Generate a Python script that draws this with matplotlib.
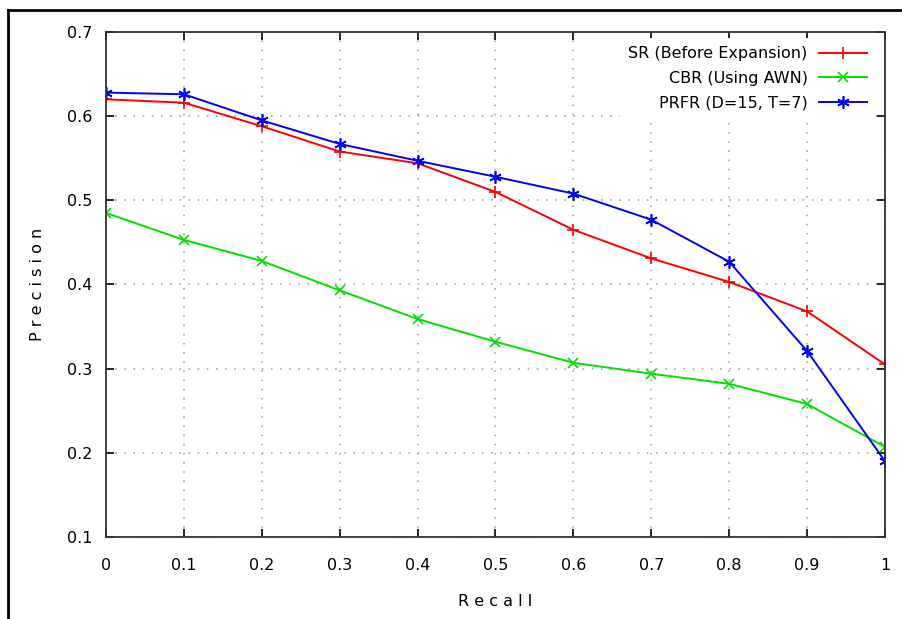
import numpy as np
import matplotlib.pyplot as plt
from matplotlib.lines import Line2D

recall = [0, 0.1, 0.2, 0.3, 0.4, 0.5, 0.6, 0.7, 0.8, 0.9, 1.0]
sr = [0.620, 0.616, 0.588, 0.558, 0.544, 0.510, 0.465, 0.431, 0.403, 0.368, 0.305]
cbr = [0.485, 0.453, 0.428, 0.393, 0.359, 0.332, 0.307, 0.294, 0.282, 0.258, 0.207]
prfr = [0.628, 0.626, 0.595, 0.567, 0.547, 0.528, 0.508, 0.477, 0.427, 0.321, 0.190]

labels = ["SR (Before Expansion)", "CBR (Using AWN)", "PRFR (D=15, T=7)"]
xticks = [0, 0.1, 0.2, 0.3, 0.4, 0.5, 0.6, 0.7, 0.8, 0.9, 1]
xtick_labels = ["0", "0.1", "0.2", "0.3", "0.4", "0.5", "0.6", "0.7", "0.8", "0.9", "1"]
yticks = [0.1, 0.2, 0.3, 0.4, 0.5, 0.6, 0.7]

fig = plt.figure(figsize=(9.03, 6.19), dpi=100)
ax = fig.add_axes([106 / 903, 1 - 537 / 619, (885 - 106) / 903, (537 - 32) / 619])

ax.plot(recall, sr, color="#ff0000", lw=1.4, marker="+", ms=9, mew=1.2, label=labels[0])
ax.plot(recall, cbr, color="#00e000", lw=1.4, marker="x", ms=7, mew=1.2, label=labels[1])
ax.plot(recall, prfr, color="#0000ff", lw=1.4, marker=(6, 2, 0), ms=9, mew=1.2, label=labels[2])

ax.set_xlim(0, 1)
ax.set_ylim(0.1, 0.7)
ax.set_xticks(xticks)
ax.set_xticklabels(xtick_labels)
ax.set_yticks(yticks)
ax.set_yticklabels(["%.1f" % v for v in yticks])
ax.grid(True, color="#999999", linestyle=(0, (1, 5)), lw=1.1)
ax.tick_params(direction="in", length=6, width=1.2, top=True, right=True,
               labelsize=11.5, colors="black")
ax.tick_params(axis="x", pad=15)
ax.tick_params(axis="y", pad=10)
for s in ax.spines.values():
    s.set_linewidth(1.3)
    s.set_color("#333333")

ax.set_xlabel(" ".join("Recall"), fontsize=11.5)
ax.set_ylabel(" ".join("Precision"), fontsize=11.5)
ax.xaxis.set_label_coords(0.5, -0.113)
ax.yaxis.set_label_coords(-0.078, 0.5)

leg = ax.legend(loc="upper right", markerfirst=False, fontsize=11.5, frameon=True,
                handlelength=3.0, handletextpad=0.7, labelspacing=0.6,
                borderaxespad=0.4, borderpad=0.5, fancybox=False,
                bbox_to_anchor=(0.995, 1.0))
leg.get_frame().set_facecolor("white")
leg.get_frame().set_edgecolor("none")
leg.get_frame().set_alpha(1)
for t in leg.get_texts():
    t.set_ha("right")
leg._legend_box.align = "right"

# screenshot frame
fig.add_artist(Line2D([8 / 903, 8 / 903], [0, 1 - 10 / 619], color="black", lw=2))
fig.add_artist(Line2D([8 / 903, 1], [1 - 10 / 619, 1 - 10 / 619], color="black", lw=2))

fig.savefig("out.png", dpi=100)
